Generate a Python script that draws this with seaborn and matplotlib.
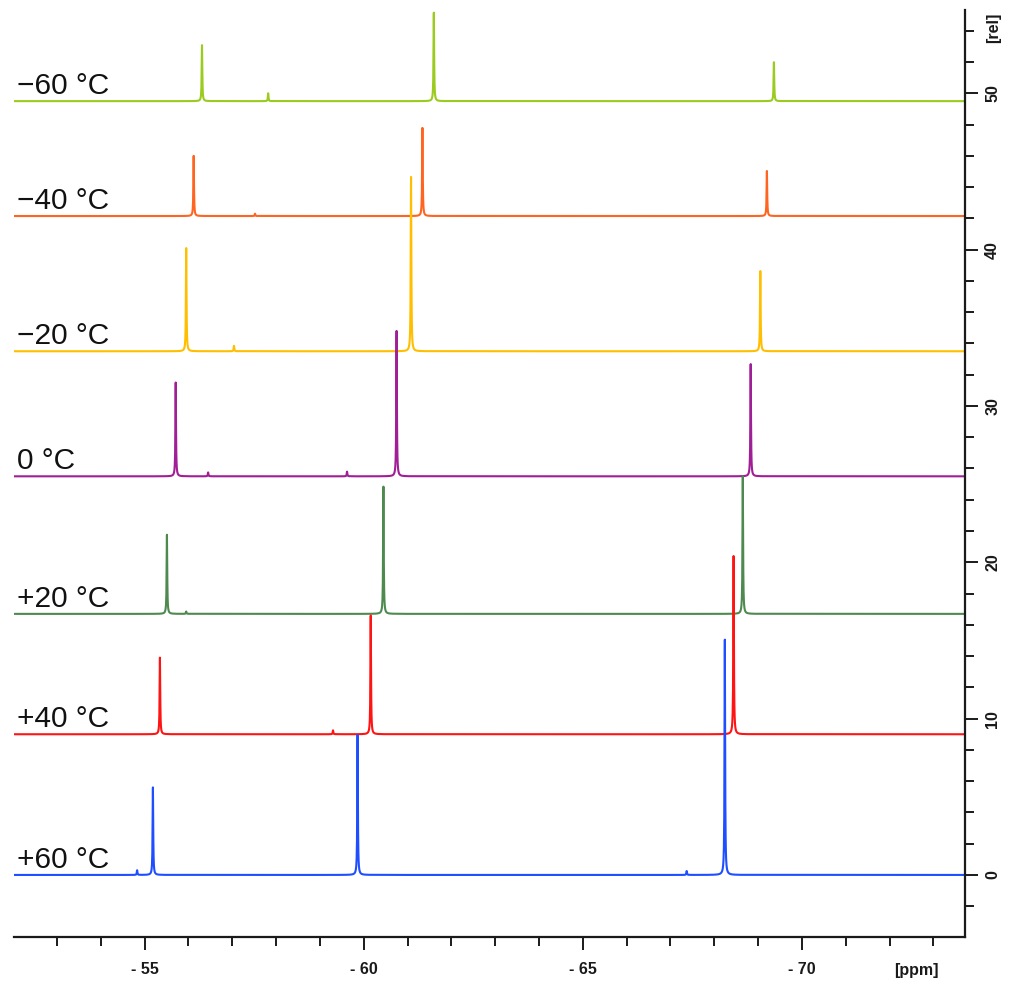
import numpy as np
import pandas as pd
import seaborn as sns
import matplotlib.pyplot as plt
from matplotlib.ticker import MultipleLocator, FixedLocator
import matplotlib.transforms as mtransforms

# ---------------- data ----------------
temps = ['−60 °C', '−40 °C', '−20 °C', '0 °C', '+20 °C', '+40 °C', '+60 °C']
colors = ['#9BCB1E', '#FF6420', '#FFBF00', '#A01E96', '#4E8A50', '#FF1414', '#1E4EFF']
offsets = [49.5, 42.15, 33.5, 25.5, 16.7, 9.0, 0.0]

# peak positions (ppm) and heights (rel) per temperature
ppm_m60 = [-56.31, -61.60, -69.36, -57.82]
hgt_m60 = [3.58, 5.66, 2.49, 0.5]
ppm_m40 = [-56.12, -61.34, -69.20, -57.52]
hgt_m40 = [3.85, 5.64, 2.88, 0.15]
ppm_m20 = [-55.95, -61.08, -69.05, -57.04]
hgt_m20 = [6.6, 11.15, 5.13, 0.35]
ppm_0 = [-55.71, -60.75, -68.83, -56.45, -59.62]
hgt_0 = [6.0, 9.3, 7.18, 0.25, 0.3]
ppm_p20 = [-55.51, -60.45, -68.65, -55.95]
hgt_p20 = [5.06, 8.14, 8.8, 0.15]
ppm_p40 = [-55.35, -60.16, -68.44, -59.30]
hgt_p40 = [4.9, 7.6, 11.4, 0.25]
ppm_p60 = [-55.19, -59.86, -68.24, -54.83, -67.37]
hgt_p60 = [5.6, 8.95, 15.05, 0.3, 0.25]

peak_ppm = [ppm_m60, ppm_m40, ppm_m20, ppm_0, ppm_p20, ppm_p40, ppm_p60]
peak_hgt = [hgt_m60, hgt_m40, hgt_m20, hgt_0, hgt_p20, hgt_p40, hgt_p60]

x_left, x_right = -52.02, -73.72
y_low, y_high = -3.97, 55.33
line_width_ppm = 0.008   # Lorentzian half width

# ---------------- build spectra table ----------------
grid = np.linspace(x_left, x_right, 10851)
grid = np.union1d(grid, np.concatenate([np.array(p) for p in peak_ppm]))
rows = []
for t, off, pp, hh in zip(temps, offsets, peak_ppm, peak_hgt):
    sig = np.zeros_like(grid)
    for p0, h in zip(pp, hh):
        sig += h * line_width_ppm**2 / ((grid - p0)**2 + line_width_ppm**2)
    rows.append(pd.DataFrame({'ppm': grid, 'signal': sig + off, 'temp': t}))
df = pd.concat(rows, ignore_index=True)

# ---------------- plot ----------------
sns.set_theme(style='white')
plt.rcParams['font.family'] = ['Liberation Sans', 'DejaVu Sans']

fig = plt.figure(figsize=(10.10, 9.85), dpi=100)
ax = fig.add_axes([14/1010, 48/985, (965-14)/1010, (937-10)/985])

sns.lineplot(data=df, x='ppm', y='signal', hue='temp', hue_order=temps,
             palette=colors, estimator=None, sort=False, legend=False,
             linewidth=1.5, ax=ax)

ax.set_xlim(x_left, x_right)
ax.set_ylim(y_low, y_high)
ax.set_xlabel('')
ax.set_ylabel('')

for s in ['left', 'top']:
    ax.spines[s].set_visible(False)
for s in ['bottom', 'right']:
    ax.spines[s].set_visible(True)
    ax.spines[s].set_color('#1a1a1a')
    ax.spines[s].set_linewidth(1.6)

# x ticks
xmaj = [-55, -60, -65, -70]
xlab = ['- 55', '- 60', '- 65', '- 70']
ax.xaxis.set_major_locator(FixedLocator(xmaj))
ax.set_xticklabels(xlab)
ax.xaxis.set_minor_locator(FixedLocator(list(range(-53, -74, -1))))
ax.tick_params(axis='x', which='major', direction='out', length=9, width=1.4,
               color='#1a1a1a', pad=9, labelsize=11.5, bottom=True)
ax.tick_params(axis='x', which='minor', direction='out', length=6.5, width=1.4,
               color='#1a1a1a', bottom=True)
for lab in ax.get_xticklabels():
    lab.set_fontweight('bold')
    lab.set_color('#1a1a1a')

# y ticks on right
ax.yaxis.tick_right()
ax.yaxis.set_major_locator(MultipleLocator(10))
ax.yaxis.set_minor_locator(MultipleLocator(2))
ax.tick_params(axis='y', which='major', direction='out', length=9.5, width=1.4,
               color='#1a1a1a', pad=5, labelsize=11.5, right=True, left=False)
ax.tick_params(axis='y', which='minor', direction='out', length=6.5, width=1.4,
               color='#1a1a1a', right=True, left=False)
for lab in ax.get_yticklabels():
    lab.set_rotation(90)
    lab.set_va('center')
    lab.set_fontweight('bold')
    lab.set_color('#1a1a1a')

# temperature labels
trans = mtransforms.blended_transform_factory(ax.transAxes, ax.transData)
for t, off in zip(temps, offsets):
    ax.text(0.003, off + 0.45, t, transform=trans, ha='left', va='baseline',
            fontsize=21.5, color='#111111')

fig.text(916/1010, 1 - 970/985, '[ppm]', ha='center', va='center',
         fontsize=11.5, fontweight='bold', color='#1a1a1a')
fig.text(994/1010, 1 - 28/985, '[rel]', ha='center', va='center', rotation=90,
         fontsize=11.5, fontweight='bold', color='#1a1a1a')

fig.savefig('out.png', dpi=100)
